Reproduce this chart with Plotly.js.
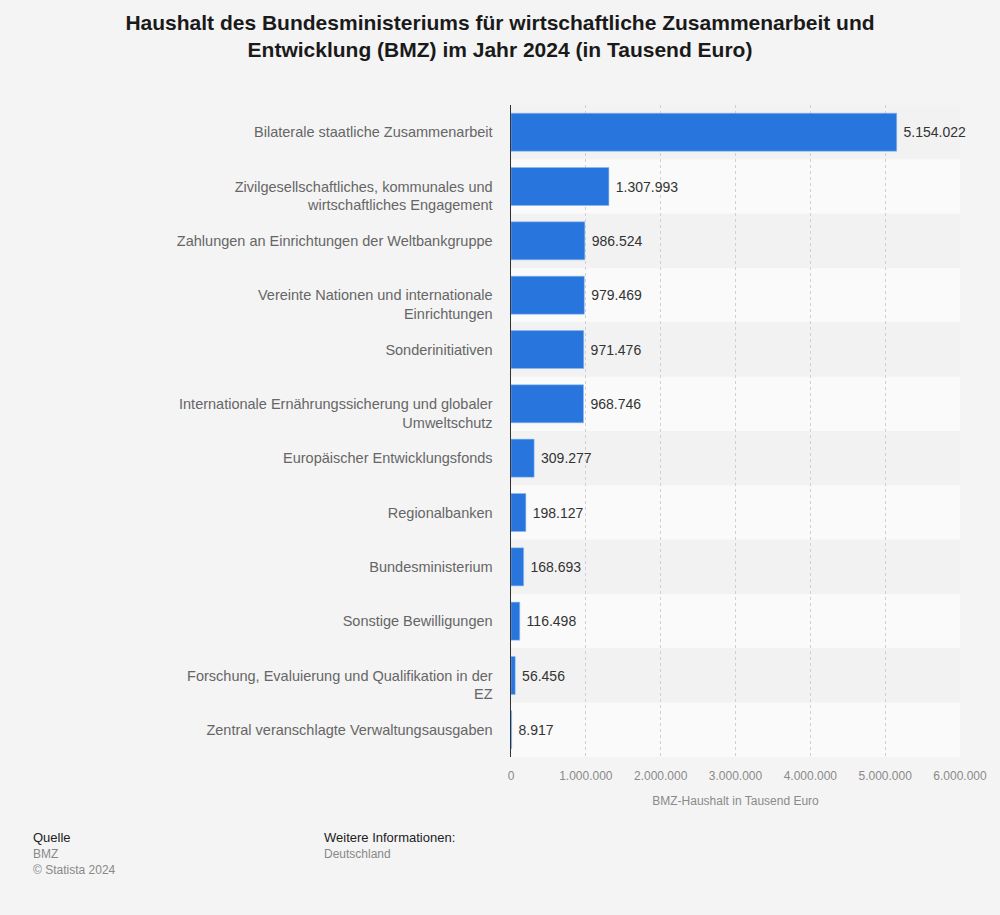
<!DOCTYPE html>
<html>
<head>
<meta charset="utf-8">
<script src="https://cdn.plot.ly/plotly-3.0.1.min.js"></script>
<style>
html,body{margin:0;padding:0;background:#f4f4f4;}
#chart{width:1000px;height:915px;}
</style>
</head>
<body>
<div id="chart"></div>
<script>
const categories = [
  "Bilaterale staatliche Zusammenarbeit",
  "Zivilgesellschaftliches, kommunales und<br>wirtschaftliches Engagement",
  "Zahlungen an Einrichtungen der Weltbankgruppe",
  "Vereinte Nationen und internationale<br>Einrichtungen",
  "Sonderinitiativen",
  "Internationale Ernährungssicherung und globaler<br>Umweltschutz",
  "Europäischer Entwicklungsfonds",
  "Regionalbanken",
  "Bundesministerium",
  "Sonstige Bewilligungen",
  "Forschung, Evaluierung und Qualifikation in der<br>EZ",
  "Zentral veranschlagte Verwaltungsausgaben"
];
const values = [5154022, 1307993, 986524, 979469, 971476, 968746, 309277, 198127, 168693, 116498, 56456, 8917];
const xTicks = [0, 1000000, 2000000, 3000000, 4000000, 5000000, 6000000];

const FONT = 'Liberation Sans, Arial, sans-serif';

const bands = categories.map((c, i) => ({
  type: 'rect', xref: 'paper', yref: 'y', layer: 'below',
  x0: 0, x1: 1, y0: i - 0.5, y1: i + 0.5,
  fillcolor: i % 2 === 0 ? '#f2f2f2' : '#fafafa', line: {width: 0}
}));

// multi-line labels: first line aligned with bar centre (Statista style)
const tickText = categories.map(c => c.indexOf('<br>') >= 0 ? '\u00a0<br>' + c : c);

const trace = {
  type: 'bar', orientation: 'h',
  y: categories.map((c, i) => i), x: values,
  marker: {color: '#2876dd', line: {color: '#8fb8ee', width: 0.5}},
  texttemplate: '\u00a0%{x:,.0f}', textposition: 'outside', cliponaxis: false,
  textfont: {family: FONT, size: 14, color: '#333333'},
  hoverinfo: 'x+y'
};

const layout = {
  width: 1000, height: 915,
  paper_bgcolor: '#f4f4f4', plot_bgcolor: 'rgba(0,0,0,0)',
  separators: ',.',
  margin: {l: 511, r: 40, t: 105, b: 158},
  font: {family: FONT},
  title: {
    text: '<b>Haushalt des Bundesministeriums für wirtschaftliche Zusammenarbeit und<br>Entwicklung (BMZ) im Jahr 2024 (in Tausend Euro)</b>',
    x: 0.5, xanchor: 'center', y: 0.967, yanchor: 'top',
    font: {size: 21, color: '#1a1a1a', family: FONT}
  },
  bargap: 0.3,
  xaxis: {
    range: [0, 6000000], tickvals: xTicks, tickformat: ',.0f',
    showgrid: true, gridcolor: '#d0d0d0', griddash: 'dot', gridwidth: 1,
    zeroline: false, showline: false, ticks: '',
    tickfont: {size: 12, color: '#8a8a8a'}, ticklabelstandoff: 10,
    title: {text: 'BMZ-Haushalt in Tausend Euro', font: {size: 12, color: '#8a8a8a'}, standoff: 14}
  },
  yaxis: {
    tickvals: categories.map((c, i) => i), ticktext: tickText,
    range: [categories.length - 0.5, -0.5],
    showgrid: false, zeroline: false,
    showline: true, linecolor: '#333333', linewidth: 1.5,
    ticks: '', ticklabelstandoff: 14,
    tickfont: {size: 14.5, color: '#666666'}
  },
  shapes: bands
};

const plotW = 1000 - 511 - 40, plotH = 915 - 105 - 158;
function px(x){ return (x - 511) / plotW; }
function py(y){ return (915 - 158 - y) / plotH; }
layout.annotations = [
  {text: 'Quelle', x: px(31), y: py(837), size: 13, color: '#222222'},
  {text: 'BMZ', x: px(31), y: py(854), size: 12, color: '#888888'},
  {text: '© Statista 2024', x: px(31), y: py(870), size: 12, color: '#888888'},
  {text: 'Weitere Informationen:', x: px(322), y: py(837), size: 13, color: '#222222'},
  {text: 'Deutschland', x: px(322), y: py(854), size: 12, color: '#888888'}
].map(a => ({
  text: a.text, xref: 'paper', yref: 'paper', x: a.x, y: a.y,
  xanchor: 'left', yanchor: 'middle', showarrow: false,
  font: {size: a.size, color: a.color, family: FONT}
}));

Plotly.newPlot('chart', [trace], layout, {displayModeBar: false, staticPlot: true});
</script>
</body>
</html>
